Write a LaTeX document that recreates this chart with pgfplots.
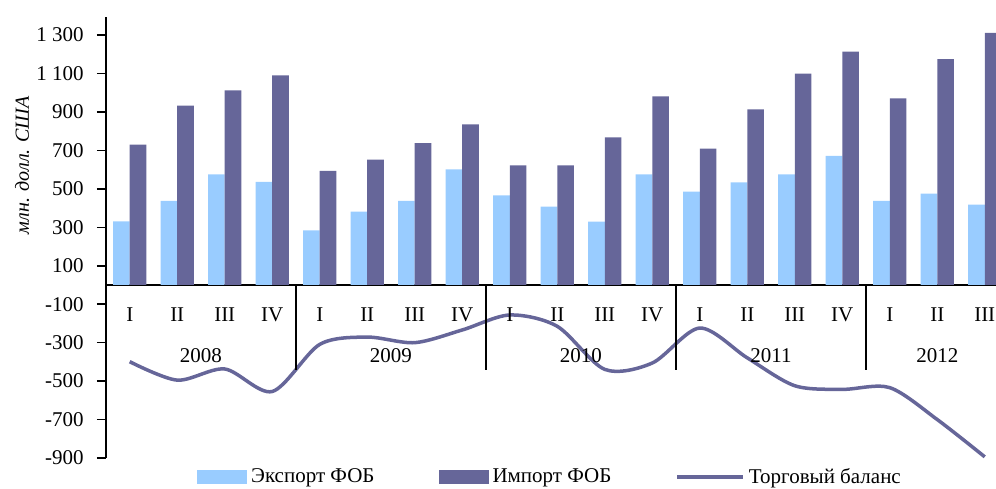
\documentclass[border=0pt]{standalone}
\usepackage{fontspec}
\setmainfont{Liberation Serif}
\usepackage{pgfplots}
\pgfplotsset{compat=1.18}
\definecolor{exportc}{HTML}{99CCFF}
\definecolor{importc}{HTML}{666699}
\definecolor{balc}{HTML}{666699}

\begin{document}
\begin{tikzpicture}[font=\fontsize{10.5}{12}\selectfont]
\begin{axis}[
    name=ax,
    scale only axis,
    width=445pt, height=220.5pt,
    xmin=-0.5, xmax=18.237,
    ymin=-900, ymax=1394,
    axis y line*=left,
    axis x line*=middle,
    x axis line style={-, line width=1pt},
    y axis line style={-, line width=1pt},
    xtick=\empty,
    ytick={-900,-700,...,1300},
    yticklabels={-900,-700,-500,-300,-100,100,300,500,700,900,1~100,1~300},
    tick align=outside,
    major tick length=4.5pt,
    y tick style={line width=0.8pt, black},
    yticklabel style={inner sep=0pt, anchor=east, xshift=-6.5pt},
    ylabel={млн. долл. США},
    ylabel style={at={(axis description cs:0,0.664)}, anchor=center, yshift=42pt, font=\itshape},
    legend style={at={(0.5,0)}, anchor=center, yshift=-9.5pt, draw=none, fill=none,
        inner sep=0pt, /tikz/every even column/.append style={column sep=30pt}},
    legend columns=3,
    legend cell align=left,
]
% export
\addplot[ybar, bar width=0.35, bar shift=-0.175, fill=exportc, draw=none,
    legend image code/.code={\fill[exportc] (0pt,-3.5pt) rectangle (25pt,3.5pt);}]
coordinates {
    (0,331) (1,438) (2,575) (3,536)
    (4,284) (5,381) (6,438) (7,601)
    (8,466) (9,407) (10,329) (11,575)
    (12,485) (13,534) (14,575) (15,671)
    (16,437) (17,475) (18,418)
};
\addlegendentry{Экспорт ФОБ}
% import
\addplot[ybar, bar width=0.35, bar shift=0.175, fill=importc, draw=none,
    legend image code/.code={\fill[importc] (0pt,-3.5pt) rectangle (25pt,3.5pt);}]
coordinates {
    (0,730) (1,933) (2,1012) (3,1090)
    (4,593) (5,652) (6,738) (7,835)
    (8,622) (9,622) (10,768) (11,981)
    (12,709) (13,913) (14,1099) (15,1214)
    (16,971) (17,1175) (18,1312)
};
\addlegendentry{Импорт ФОБ}
% trade balance
\addplot[balc, line width=1.75pt, smooth, tension=0.5,
    legend image code/.code={\draw[balc, line width=1.75pt] (0pt,0pt) -- (33pt,0pt);}]
coordinates {
    (0,-399) (1,-495) (2,-437) (3,-554)
    (4,-309) (5,-271) (6,-300) (7,-234)
    (8,-156) (9,-215) (10,-439) (11,-406)
    (12,-224) (13,-379) (14,-524) (15,-543)
    (16,-534) (17,-700) (18,-894)
};
\addlegendentry{Торговый баланс}

% quarter labels and year groups
\pgfplotsinvokeforeach{0,4,8,12,16}{\node at (axis cs:#1,-155) {I};}
\pgfplotsinvokeforeach{1,5,9,13,17}{\node at (axis cs:#1,-155) {II};}
\pgfplotsinvokeforeach{2,6,10,14,18}{\node at (axis cs:#1,-155) {III};}
\pgfplotsinvokeforeach{3,7,11,15}{\node at (axis cs:#1,-155) {IV};}
\pgfplotsinvokeforeach{3.5,7.5,11.5,15.5}{\draw[line width=1pt] (axis cs:#1,0) -- (axis cs:#1,-440);}
\node at (axis cs:1.5,-368) {2008};
\node at (axis cs:5.5,-368) {2009};
\node at (axis cs:9.5,-368) {2010};
\node at (axis cs:13.5,-368) {2011};
\node at (axis cs:17,-368) {2012};
\end{axis}
\pgfresetboundingbox
\path ([xshift=-53pt,yshift=-15pt]ax.south west) rectangle ([yshift=8.5pt]ax.north east);
\end{tikzpicture}
\end{document}
